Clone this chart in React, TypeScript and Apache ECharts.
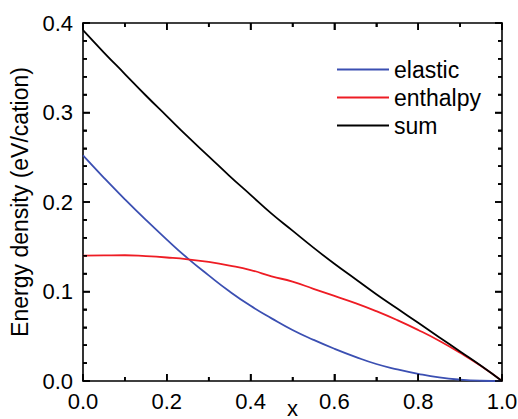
import React, { useEffect, useRef } from "react";
import * as echarts from "echarts";

const xValues = [0, 0.05, 0.1, 0.15, 0.2, 0.25, 0.3, 0.35, 0.4, 0.45, 0.5, 0.55, 0.6, 0.65, 0.7, 0.75, 0.8, 0.85, 0.9, 0.95, 1.0];
const elastic = [0.252, 0.227, 0.203, 0.18, 0.158, 0.137, 0.118, 0.1, 0.084, 0.07, 0.057, 0.046, 0.036, 0.027, 0.019, 0.013, 0.008, 0.004, 0.0015, 0.0003, 0];
const enthalpy = [0.14, 0.1403, 0.1405, 0.1395, 0.138, 0.136, 0.133, 0.129, 0.124, 0.117, 0.111, 0.103, 0.095, 0.087, 0.078, 0.068, 0.057, 0.045, 0.0315, 0.0167, 0];
const sum = [0.392, 0.367, 0.343, 0.319, 0.296, 0.273, 0.251, 0.229, 0.208, 0.187, 0.168, 0.149, 0.131, 0.114, 0.097, 0.081, 0.065, 0.049, 0.033, 0.017, 0];
const seriesNames = ["elastic", "enthalpy", "sum"];
const seriesColors = ["#3b4fb2", "#ee1c24", "#000000"];

// tick values
const xMajorTicks = [0, 0.2, 0.4, 0.6, 0.8, 1.0];
const xMinorTicks = [0.1, 0.3, 0.5, 0.7, 0.9];
const yMajorTicks = [0, 0.1, 0.2, 0.3, 0.4];
const yMinorTicks = [0.02, 0.04, 0.06, 0.08, 0.12, 0.14, 0.16, 0.18, 0.22, 0.24, 0.26, 0.28, 0.32, 0.34, 0.36, 0.38];

const X_MIN = 0, X_MAX = 1, Y_MIN = 0, Y_MAX = 0.4;
const W = 518, H = 419;
const GRID = { left: 83, right: 16, top: 23, bottom: 38 };
const FONT = "Liberation Sans, Arial, sans-serif";

export default function App() {
  const ref = useRef<HTMLDivElement>(null);
  useEffect(() => {
    if (!ref.current) return;
    const chart = echarts.init(ref.current, undefined, { renderer: "svg" });
    const lists = [elastic, enthalpy, sum];
    const mkLine = () => ({ show: true, onZero: false, lineStyle: { color: "#000", width: 1.6 } });
    const mkTick = () => ({ show: true, inside: true, length: 7, lineStyle: { color: "#000", width: 1.6 } });
    const mkMinor = (n: number) => ({ show: true, splitNumber: n, length: 4, lineStyle: { color: "#000", width: 1.6 } });

    // convert tick lengths (px) into axis units so the tick segments go through the axes' scales
    const plotW = W - GRID.left - GRID.right;
    const plotH = H - GRID.top - GRID.bottom;
    const dxPerPx = (X_MAX - X_MIN) / plotW;
    const dyPerPx = (Y_MAX - Y_MIN) / plotH;
    const MAJ = 7, MIN = 4;

    const segs: (number | string)[][] = [];
    const addX = (vals: number[], len: number) => {
      vals.forEach((v) => {
        segs.push([v, Y_MIN], [v, Y_MIN + len * dyPerPx], [v, "-"]);
        segs.push([v, Y_MAX], [v, Y_MAX - len * dyPerPx], [v, "-"]);
      });
    };
    const addY = (vals: number[], len: number) => {
      vals.forEach((v) => {
        segs.push([X_MIN, v], [X_MIN + len * dxPerPx, v], ["-", v]);
        segs.push([X_MAX, v], [X_MAX - len * dxPerPx, v], ["-", v]);
      });
    };
    addX(xMajorTicks, MAJ);
    addX(xMinorTicks, MIN);
    addY(yMajorTicks, MAJ);
    addY(yMinorTicks, MIN);

    chart.setOption({
      animation: false,
      backgroundColor: "#fff",
      textStyle: { fontFamily: FONT },
      grid: { ...GRID, containLabel: false, outerBoundsMode: "none" },
      legend: {
        orient: "vertical",
        left: 332,
        top: 53,
        icon: "rect",
        itemWidth: 52,
        itemHeight: 2,
        itemGap: 5,
        textStyle: { fontSize: 23, color: "#000", fontFamily: FONT },
        data: seriesNames,
      },
      xAxis: [
        {
          type: "value",
          position: "bottom",
          min: X_MIN,
          max: X_MAX,
          interval: 0.2,
          name: "x",
          nameLocation: "middle",
          nameGap: 16,
          nameMoveOverlap: false,
          nameTextStyle: { fontSize: 22, color: "#000", fontFamily: FONT },
          axisLine: mkLine(),
          axisTick: mkTick(),
          minorTick: mkMinor(2),
          splitLine: { show: false },
          axisLabel: { fontSize: 22, color: "#000", margin: 9, fontFamily: FONT, formatter: (v: number) => v.toFixed(1) },
        },
        {
          type: "value",
          position: "top",
          min: X_MIN,
          max: X_MAX,
          interval: 0.2,
          axisLine: mkLine(),
          axisTick: mkTick(),
          minorTick: mkMinor(2),
          splitLine: { show: false },
          axisLabel: { show: false },
        },
      ],
      yAxis: [
        {
          type: "value",
          position: "left",
          min: Y_MIN,
          max: Y_MAX,
          interval: 0.1,
          name: "Energy density (eV/cation)",
          nameLocation: "middle",
          nameRotate: 90,
          nameGap: 50,
          nameTextStyle: { fontSize: 23, color: "#000", fontFamily: FONT },
          axisLine: mkLine(),
          axisTick: mkTick(),
          minorTick: mkMinor(5),
          splitLine: { show: false },
          axisLabel: { fontSize: 22, color: "#000", margin: 10, fontFamily: FONT, formatter: (v: number) => v.toFixed(1) },
        },
        {
          type: "value",
          position: "right",
          min: Y_MIN,
          max: Y_MAX,
          interval: 0.1,
          axisLine: mkLine(),
          axisTick: mkTick(),
          minorTick: mkMinor(5),
          splitLine: { show: false },
          axisLabel: { show: false },
        },
      ],
      series: [
        ...seriesNames.map((name, i) => ({
          name,
          type: "line",
          smooth: true,
          symbol: "none",
          color: seriesColors[i],
          lineStyle: { color: seriesColors[i], width: 1.8 },
          data: xValues.map((x, j) => [x, lists[i][j]]),
          z: 3,
        })),
        {
          id: "ticks",
          type: "line",
          symbol: "none",
          silent: true,
          connectNulls: false,
          clip: false,
          z: 5,
          color: "#000",
          lineStyle: { color: "#000", width: 1.6 },
          data: segs,
        },
      ],
    });
    return () => chart.dispose();
  }, []);
  return <div ref={ref} style={{ position: "fixed", left: 0, top: 0, width: W, height: H }} />;
}
